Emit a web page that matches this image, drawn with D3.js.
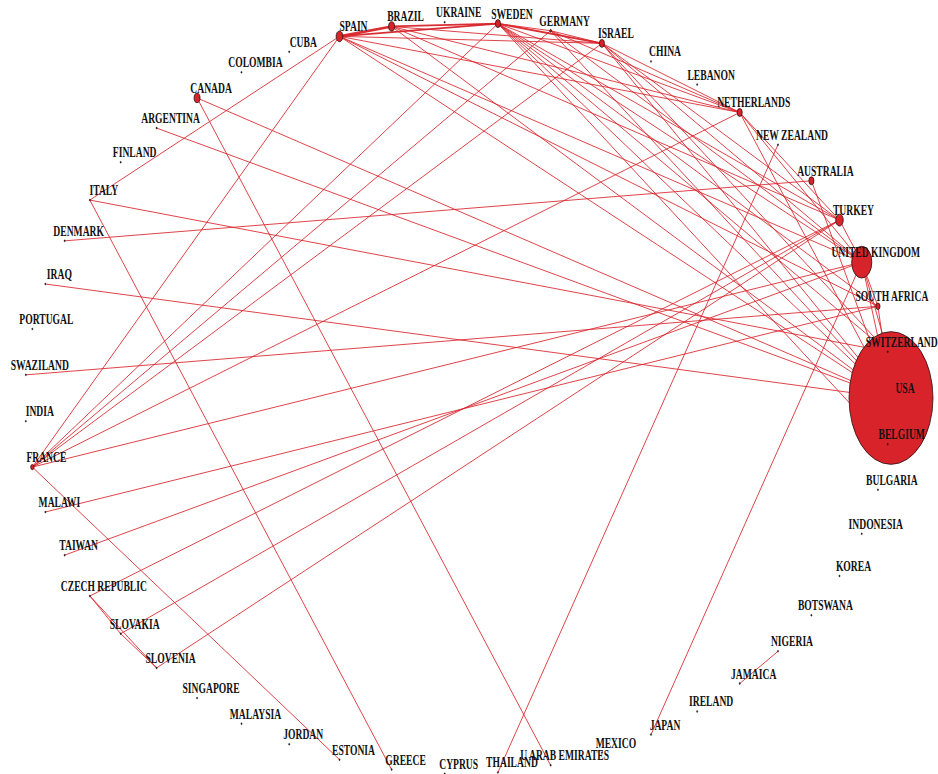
<!DOCTYPE html>
<html>
<head>
<meta charset="utf-8">
<script src="https://cdn.jsdelivr.net/npm/d3@7"></script>
<style>
  body { margin: 0; background: #ffffff; }
  svg { display: block; }
</style>
</head>
<body>
<svg id="net" width="938" height="774"></svg>
<script>
// Countries in their order round the circle, starting at the right and running anticlockwise
const countries = [
  "USA", "SWITZERLAND", "SOUTH AFRICA", "UNITED KINGDOM", "TURKEY", "AUSTRALIA",
  "NEW ZEALAND", "NETHERLANDS", "LEBANON", "CHINA", "ISRAEL", "GERMANY", "SWEDEN",
  "UKRAINE", "BRAZIL", "SPAIN", "CUBA", "COLOMBIA", "CANADA", "ARGENTINA", "FINLAND",
  "ITALY", "DENMARK", "IRAQ", "PORTUGAL", "SWAZILAND", "INDIA", "FRANCE", "MALAWI",
  "TAIWAN", "CZECH REPUBLIC", "SLOVAKIA", "SLOVENIA", "SINGAPORE", "MALAYSIA", "JORDAN",
  "ESTONIA", "GREECE", "CYPRUS", "THAILAND", "U ARAB EMIRATES", "MEXICO", "JAPAN",
  "IRELAND", "JAMAICA", "NIGERIA", "BOTSWANA", "KOREA", "INDONESIA", "BULGARIA", "BELGIUM"
];

// Node weight of each country (same order as above)
const nodeWeight = [
  100, 1, 5, 24, 9, 6,
  1, 6, 1, 1, 6, 2, 6,
  1, 7, 8, 1, 1, 7, 1, 1,
  1, 1, 1, 1, 1, 1, 4, 1,
  1, 1, 1, 1, 1, 1, 1,
  1, 1, 1, 1, 1, 1, 1,
  1, 1, 1, 1, 1, 1, 1, 1
];

// Collaboration links
const linkSource = [
  "SPAIN", "SPAIN", "BRAZIL", "SWEDEN", "SWEDEN", "GERMANY", "SPAIN", "BRAZIL",
  "SPAIN", "SPAIN", "SPAIN", "SPAIN",
  "BRAZIL", "BRAZIL", "BRAZIL",
  "SWEDEN", "SWEDEN", "SWEDEN", "SWEDEN", "SWEDEN", "SWEDEN", "SWEDEN",
  "GERMANY", "GERMANY", "GERMANY",
  "ISRAEL", "ISRAEL", "ISRAEL", "ISRAEL", "ISRAEL",
  "NETHERLANDS", "NETHERLANDS", "NETHERLANDS",
  "AUSTRALIA", "TURKEY", "UNITED KINGDOM", "UNITED KINGDOM", "SOUTH AFRICA", "SWITZERLAND", "BELGIUM", "UNITED KINGDOM",
  "CANADA", "CANADA", "ARGENTINA", "ITALY", "ITALY", "ITALY", "DENMARK", "IRAQ", "SWAZILAND",
  "FRANCE", "FRANCE", "FRANCE", "FRANCE", "FRANCE", "FRANCE", "FRANCE",
  "MALAWI", "TAIWAN", "CZECH REPUBLIC", "SLOVAKIA", "SLOVENIA",
  "CZECH REPUBLIC", "SLOVAKIA", "CZECH REPUBLIC",
  "NEW ZEALAND", "JAPAN", "JAMAICA"
];
const linkTarget = [
  "BRAZIL", "SWEDEN", "SWEDEN", "ISRAEL", "GERMANY", "ISRAEL", "ISRAEL", "ISRAEL",
  "NETHERLANDS", "UNITED KINGDOM", "SOUTH AFRICA", "USA",
  "NETHERLANDS", "TURKEY", "USA",
  "NETHERLANDS", "TURKEY", "UNITED KINGDOM", "SOUTH AFRICA", "SWITZERLAND", "USA", "BELGIUM",
  "NETHERLANDS", "UNITED KINGDOM", "USA",
  "NETHERLANDS", "TURKEY", "UNITED KINGDOM", "USA", "SWITZERLAND",
  "TURKEY", "UNITED KINGDOM", "USA",
  "USA", "UNITED KINGDOM", "USA", "SOUTH AFRICA", "USA", "USA", "USA", "SWITZERLAND",
  "USA", "U ARAB EMIRATES", "USA", "SPAIN", "GREECE", "SWITZERLAND", "AUSTRALIA", "USA", "SOUTH AFRICA",
  "SPAIN", "SWEDEN", "GERMANY", "ISRAEL", "NETHERLANDS", "UNITED KINGDOM", "ESTONIA",
  "SOUTH AFRICA", "UNITED KINGDOM", "TURKEY", "TURKEY", "TURKEY",
  "SLOVAKIA", "SLOVENIA", "SLOVENIA",
  "THAILAND", "UNITED KINGDOM", "NIGERIA"
];
const linkWeight = [
  3, 2, 2, 2, 1, 1, 1, 1,
  1, 1, 1, 1,
  1, 1, 1,
  1, 1, 1, 1, 1, 1, 1,
  1, 1, 1,
  1, 1, 1, 1, 1,
  1, 1, 1,
  1, 1, 1, 1, 1, 1, 1, 1,
  1, 1, 1, 1, 1, 1, 1, 1, 1,
  1, 1, 1, 1, 1, 1, 1,
  1, 1, 1, 1, 1,
  1, 1, 1,
  1, 1, 1
];

const width = 938, height = 774;
const svg = d3.select("#net");

// Circular (elliptical) layout
const cx = 458, cy = 398, rX = 433, rY = 376;
const angle = d3.scaleLinear().domain([0, countries.length]).range([0, 2 * Math.PI]);
const nodes = countries.map((name, i) => ({
  name,
  weight: nodeWeight[i],
  x: cx + rX * Math.cos(angle(i)),
  y: cy - rY * Math.sin(angle(i))
}));
const byName = new Map(nodes.map(n => [n.name, n]));

const links = linkSource.map((s, i) => ({
  source: byName.get(s),
  target: byName.get(linkTarget[i]),
  weight: linkWeight[i]
}));

const nodeRx = d3.scaleLinear().domain([0, 100]).range([0, 42]);
const lineWidth = d3.scaleLinear().domain([1, 3]).range([0.9, 2.6]);

const red = "#d8232a";

svg.append("g")
  .selectAll("line")
  .data(links)
  .join("line")
  .attr("x1", d => d.source.x)
  .attr("y1", d => d.source.y)
  .attr("x2", d => d.target.x)
  .attr("y2", d => d.target.y)
  .attr("stroke", red)
  .attr("stroke-width", d => lineWidth(d.weight))
  .attr("stroke-opacity", 0.95);

svg.append("g")
  .selectAll("ellipse")
  .data(nodes)
  .join("ellipse")
  .attr("cx", d => d.x)
  .attr("cy", d => d.y)
  .attr("rx", d => Math.max(0.7, nodeRx(d.weight)))
  .attr("ry", d => Math.max(1.0, nodeRx(d.weight) * 1.58))
  .attr("fill", d => d.weight > 1 ? red : "#222")
  .attr("stroke", "#2a1010")
  .attr("stroke-width", d => d.weight > 1 ? 0.8 : 0.3);

svg.append("g")
  .selectAll("text")
  .data(nodes)
  .join("text")
  .attr("transform", d => `translate(${d.x + 14},${d.y - 5}) scale(1,1.55)`)
  .attr("text-anchor", "middle")
  .attr("font-family", "'Liberation Serif', 'DejaVu Serif', serif")
  .attr("font-weight", "bold")
  .attr("font-size", 9.6)
  .attr("fill", "#111")
  .text(d => d.name);
</script>
</body>
</html>
